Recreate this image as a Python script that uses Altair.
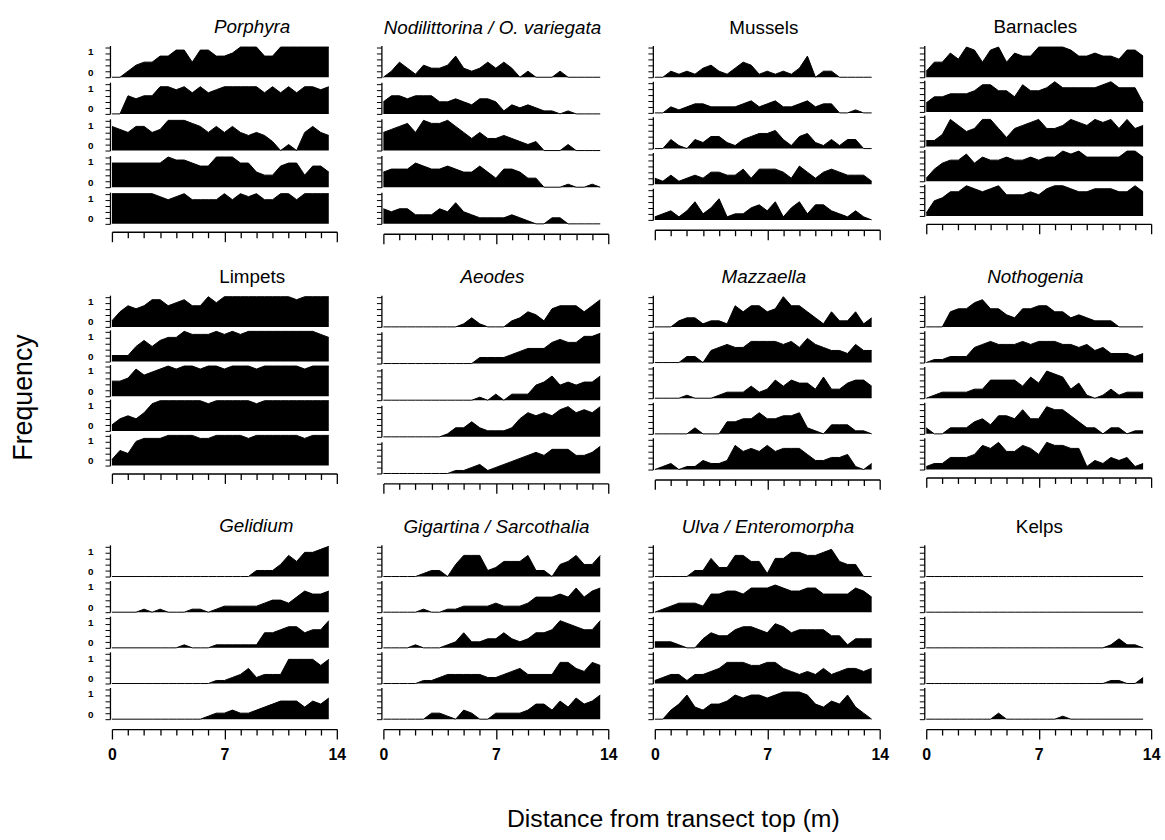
import altair as alt
import pandas as pd

# distance along transect (m)
X_M = [0.0, 0.5, 1.0, 1.5, 2.0, 2.5, 3.0, 3.5, 4.0, 4.5, 5.0, 5.5, 6.0, 6.5,
       7.0, 7.5, 8.0, 8.5, 9.0, 9.5, 10.0, 10.5, 11.0, 11.5, 12.0, 12.5, 13.0, 13.5]

# frequencies in tenths, five transects (strips) per taxon, top to bottom
porphyra = [
    [0, 0, 2, 4, 5, 5, 7, 7, 9, 9, 5, 9, 9, 7, 7, 8, 10, 10, 10, 7, 7, 10, 10, 10, 10, 10, 10, 10],
    [0, 0, 6, 5, 6, 6, 9, 9, 8, 9, 7, 9, 7, 8, 9, 9, 9, 9, 9, 7, 9, 7, 9, 7, 9, 9, 8, 9],
    [8, 7, 6, 8, 8, 6, 7, 10, 10, 10, 9, 8, 6, 8, 6, 8, 6, 5, 6, 5, 3, 0, 2, 0, 6, 8, 6, 5],
    [8, 8, 8, 8, 8, 8, 8, 10, 9, 9, 8, 7, 7, 10, 10, 10, 8, 8, 5, 4, 4, 7, 8, 8, 4, 7, 7, 5],
    [10, 10, 10, 10, 10, 10, 9, 8, 9, 10, 8, 8, 8, 8, 10, 8, 10, 9, 10, 8, 8, 10, 10, 8, 10, 10, 10, 10],
]
nodilittorina = [
    [0, 2, 5, 3, 1, 4, 3, 3, 4, 7, 3, 2, 3, 5, 3, 5, 3, 0, 2, 0, 0, 0, 2, 0, 0, 0, 0, 0],
    [4, 6, 6, 5, 6, 6, 6, 4, 4, 5, 4, 3, 5, 5, 4, 1, 3, 2, 3, 2, 1, 1, 0, 1, 0, 0, 0, 0],
    [6, 7, 8, 9, 6, 10, 9, 9, 10, 8, 6, 4, 6, 4, 4, 5, 4, 3, 2, 3, 0, 0, 0, 2, 0, 0, 0, 0],
    [5, 6, 6, 6, 8, 7, 6, 6, 7, 6, 5, 5, 7, 5, 3, 6, 6, 5, 3, 3, 0, 0, 0, 1, 0, 0, 1, 0],
    [5, 4, 5, 5, 3, 3, 3, 5, 4, 7, 4, 3, 2, 2, 2, 2, 3, 2, 1, 0, 0, 2, 2, 0, 0, 0, 0, 0],
]
mussels = [
    [0, 0, 2, 1, 2, 1, 3, 4, 2, 1, 3, 5, 4, 1, 2, 1, 2, 1, 3, 7, 0, 2, 2, 0, 0, 0, 0, 0],
    [0, 0, 2, 1, 2, 3, 3, 2, 2, 2, 2, 3, 4, 2, 3, 4, 2, 2, 3, 4, 2, 3, 3, 0, 0, 1, 0, 0],
    [0, 0, 3, 1, 0, 3, 2, 4, 4, 2, 1, 3, 4, 5, 5, 6, 3, 1, 4, 5, 2, 1, 3, 1, 3, 3, 0, 0],
    [2, 1, 3, 1, 2, 3, 2, 4, 4, 3, 3, 5, 2, 5, 5, 5, 4, 2, 6, 4, 2, 4, 5, 4, 3, 3, 3, 1],
    [1, 2, 3, 1, 3, 6, 2, 4, 7, 1, 2, 2, 4, 5, 3, 6, 1, 4, 6, 2, 5, 5, 3, 2, 1, 3, 1, 0],
]
barnacles = [
    [2, 5, 5, 8, 6, 10, 9, 5, 9, 10, 5, 8, 7, 7, 10, 10, 10, 10, 9, 7, 7, 8, 7, 7, 6, 9, 9, 7],
    [3, 5, 5, 6, 6, 6, 7, 9, 9, 7, 7, 5, 9, 7, 7, 8, 10, 8, 8, 8, 8, 8, 9, 10, 8, 8, 8, 3],
    [2, 2, 4, 9, 7, 5, 6, 9, 9, 6, 3, 6, 7, 8, 9, 6, 6, 7, 9, 8, 7, 9, 8, 9, 6, 9, 6, 7],
    [1, 4, 6, 7, 7, 9, 6, 8, 7, 7, 8, 7, 7, 8, 7, 8, 8, 10, 9, 10, 8, 8, 8, 8, 8, 10, 10, 8],
    [1, 5, 6, 8, 8, 10, 9, 8, 9, 10, 7, 7, 7, 8, 7, 9, 10, 10, 9, 8, 8, 9, 9, 9, 8, 8, 10, 8],
]
limpets = [
    [2, 5, 7, 6, 7, 9, 9, 7, 8, 9, 7, 7, 10, 8, 10, 10, 10, 10, 10, 10, 10, 10, 10, 9, 10, 10, 10, 10],
    [2, 2, 2, 5, 7, 5, 7, 8, 8, 10, 9, 9, 9, 10, 9, 10, 9, 10, 10, 10, 10, 10, 10, 10, 10, 10, 9, 8],
    [5, 5, 6, 9, 7, 8, 9, 10, 9, 10, 10, 9, 10, 10, 9, 10, 10, 10, 9, 10, 10, 10, 10, 10, 9, 10, 10, 10],
    [2, 4, 5, 4, 6, 9, 10, 10, 10, 10, 10, 10, 9, 10, 10, 10, 10, 10, 9, 10, 10, 10, 10, 10, 10, 10, 10, 10],
    [2, 5, 4, 8, 9, 9, 9, 10, 10, 10, 10, 9, 9, 10, 10, 10, 10, 9, 10, 10, 10, 10, 10, 10, 9, 10, 10, 10],
]
aeodes = [
    [0, 0, 0, 0, 0, 0, 0, 0, 0, 0, 1, 3, 1, 0, 0, 0, 2, 3, 5, 4, 2, 6, 7, 7, 7, 5, 7, 9],
    [0, 0, 0, 0, 0, 0, 0, 0, 0, 0, 0, 0, 2, 2, 2, 2, 3, 4, 5, 5, 5, 7, 8, 7, 7, 9, 9, 10],
    [0, 0, 0, 0, 0, 0, 0, 0, 0, 0, 0, 0, 1, 0, 2, 0, 2, 2, 2, 5, 6, 8, 5, 6, 5, 6, 6, 8],
    [0, 0, 0, 0, 0, 0, 0, 0, 1, 3, 3, 5, 3, 2, 2, 2, 3, 6, 8, 7, 8, 7, 9, 10, 8, 9, 8, 10],
    [0, 0, 0, 0, 0, 0, 0, 0, 0, 1, 1, 2, 3, 1, 2, 3, 4, 5, 6, 7, 6, 8, 8, 8, 6, 6, 7, 9],
]
mazzaella = [
    [0, 0, 0, 2, 3, 3, 1, 2, 2, 1, 7, 5, 7, 7, 5, 6, 10, 7, 7, 5, 3, 1, 5, 2, 2, 5, 1, 3],
    [0, 0, 0, 0, 2, 2, 0, 4, 5, 6, 5, 5, 7, 7, 7, 7, 6, 7, 5, 8, 6, 5, 4, 4, 3, 6, 4, 4],
    [0, 0, 0, 0, 1, 0, 0, 0, 1, 2, 2, 2, 4, 2, 3, 6, 4, 6, 5, 5, 3, 7, 3, 3, 5, 6, 6, 4],
    [0, 0, 0, 0, 0, 2, 0, 0, 0, 4, 4, 5, 5, 7, 5, 5, 6, 6, 7, 2, 1, 0, 3, 3, 3, 1, 1, 0],
    [0, 1, 2, 0, 1, 1, 3, 2, 2, 3, 8, 6, 7, 6, 8, 6, 7, 7, 7, 5, 3, 3, 4, 4, 5, 1, 0, 2],
]
nothogenia = [
    [0, 0, 0, 5, 6, 6, 8, 9, 6, 6, 4, 3, 6, 6, 7, 7, 5, 5, 3, 4, 3, 2, 2, 2, 0, 0, 0, 0],
    [0, 1, 1, 2, 2, 2, 5, 6, 7, 6, 6, 6, 7, 6, 7, 7, 7, 6, 6, 5, 6, 4, 5, 3, 3, 3, 2, 3],
    [0, 1, 2, 2, 2, 2, 3, 3, 6, 6, 6, 6, 4, 7, 5, 9, 8, 7, 3, 5, 1, 0, 1, 3, 1, 2, 2, 2],
    [2, 0, 0, 2, 2, 2, 4, 5, 3, 6, 6, 5, 8, 5, 5, 9, 8, 8, 6, 4, 2, 2, 0, 2, 2, 0, 1, 1],
    [1, 2, 2, 4, 4, 4, 5, 8, 7, 9, 6, 6, 8, 7, 5, 9, 8, 8, 7, 7, 1, 3, 2, 4, 3, 4, 1, 2],
]
gelidium = [
    [0, 0, 0, 0, 0, 0, 0, 0, 0, 0, 0, 0, 0, 0, 0, 0, 0, 0, 2, 2, 2, 4, 7, 5, 8, 8, 9, 10],
    [0, 0, 0, 0, 1, 0, 1, 0, 0, 0, 1, 1, 0, 1, 2, 2, 2, 2, 2, 3, 4, 4, 3, 5, 7, 6, 6, 7],
    [0, 0, 0, 0, 0, 0, 0, 0, 0, 1, 0, 0, 0, 1, 1, 1, 1, 1, 1, 5, 5, 6, 7, 7, 5, 6, 6, 9],
    [0, 0, 0, 0, 0, 0, 0, 0, 0, 0, 0, 0, 0, 1, 1, 2, 3, 5, 2, 3, 3, 3, 8, 8, 8, 8, 6, 8],
    [0, 0, 0, 0, 0, 0, 0, 0, 0, 0, 0, 0, 1, 2, 2, 3, 2, 2, 3, 4, 5, 6, 6, 6, 4, 6, 5, 7],
]
gigartina = [
    [0, 0, 0, 0, 0, 1, 2, 2, 0, 4, 7, 7, 7, 2, 3, 5, 5, 5, 7, 2, 2, 0, 4, 5, 7, 4, 4, 7],
    [0, 0, 0, 0, 0, 1, 0, 0, 1, 1, 2, 2, 2, 2, 3, 2, 2, 2, 3, 5, 5, 5, 6, 5, 8, 5, 7, 8],
    [0, 0, 0, 0, 1, 0, 0, 0, 1, 2, 5, 2, 2, 3, 3, 5, 3, 2, 3, 5, 5, 6, 9, 8, 7, 6, 6, 9],
    [0, 0, 0, 0, 0, 1, 1, 2, 3, 3, 3, 3, 3, 2, 2, 3, 4, 5, 3, 3, 3, 3, 7, 7, 5, 4, 7, 6],
    [0, 0, 0, 0, 0, 0, 2, 2, 1, 0, 3, 2, 0, 0, 2, 2, 2, 2, 3, 5, 5, 3, 6, 4, 7, 5, 6, 8],
]
ulva = [
    [0, 0, 0, 0, 0, 2, 2, 6, 3, 3, 7, 7, 5, 5, 1, 6, 6, 8, 8, 7, 7, 8, 9, 5, 4, 4, 0, 0],
    [0, 1, 2, 3, 3, 3, 2, 6, 6, 7, 7, 6, 8, 8, 8, 9, 8, 7, 7, 8, 8, 6, 6, 6, 6, 8, 7, 5],
    [2, 2, 2, 1, 0, 0, 3, 5, 4, 4, 6, 7, 7, 6, 5, 8, 7, 5, 6, 6, 6, 6, 4, 4, 1, 3, 3, 3],
    [1, 2, 3, 3, 1, 3, 3, 4, 5, 7, 7, 7, 6, 6, 7, 7, 5, 4, 3, 4, 3, 5, 3, 4, 5, 5, 4, 5],
    [0, 0, 3, 5, 8, 4, 3, 5, 5, 6, 8, 7, 8, 8, 7, 8, 9, 9, 9, 8, 5, 4, 6, 5, 8, 4, 2, 0],
]
kelps = [
    [0, 0, 0, 0, 0, 0, 0, 0, 0, 0, 0, 0, 0, 0, 0, 0, 0, 0, 0, 0, 0, 0, 0, 0, 0, 0, 0, 0],
    [0, 0, 0, 0, 0, 0, 0, 0, 0, 0, 0, 0, 0, 0, 0, 0, 0, 0, 0, 0, 0, 0, 0, 0, 0, 0, 0, 0],
    [0, 0, 0, 0, 0, 0, 0, 0, 0, 0, 0, 0, 0, 0, 0, 0, 0, 0, 0, 0, 0, 0, 0, 1, 3, 1, 1, 0],
    [0, 0, 0, 0, 0, 0, 0, 0, 0, 0, 0, 0, 0, 0, 0, 0, 0, 0, 0, 0, 0, 0, 0, 1, 1, 0, 0, 2],
    [0, 0, 0, 0, 0, 0, 0, 0, 0, 2, 0, 0, 0, 0, 0, 0, 0, 1, 0, 0, 0, 0, 0, 0, 0, 0, 0, 0],
]

TITLES = ["Porphyra", "Nodilittorina / O. variegata", "Mussels", "Barnacles",
          "Limpets", "Aeodes", "Mazzaella", "Nothogenia",
          "Gelidium", "Gigartina / Sarcothalia", "Ulva / Enteromorpha", "Kelps"]
ITALIC = [True, True, False, False, False, True, True, True, True, True, True, False]
SERIES = [porphyra, nodilittorina, mussels, barnacles, limpets, aeodes,
          mazzaella, nothogenia, gelidium, gigartina, ulva, kelps]
X_TICKS = [0, 1, 2, 3, 4, 5, 6, 7, 8, 9, 10, 11, 12, 13, 14]
Y_TICKS = [0, 0.2, 0.4, 0.6, 0.8, 1.0]

FONT = "Liberation Sans"


def make_panel(i):
    col = i % 4
    row = i // 4
    records = []
    for s, vals in enumerate(SERIES[i]):
        for x, v in zip(X_M, vals):
            records.append({"strip": s + 1, "x": x, "freq": v / 10})
    df = pd.DataFrame(records)

    xaxis = alt.Axis(values=X_TICKS, labels=(row == 2),
                     labelExpr="datum.value % 7 == 0 ? datum.label : ''",
                     labelFlush=False, labelOverlap=False, offset=8,
                     tickSize={"condition": {"test": "datum.value % 7 == 0", "value": 10},
                               "value": 6},
                     tickWidth=1.3, domainWidth=1.4,
                     labelPadding=8, labelFontSize=16, labelFontWeight="bold",
                     labelFont=FONT, grid=False)
    yaxis = alt.Axis(values=Y_TICKS, labels=(col == 0),
                     labelExpr="datum.value == 0 ? '0' : (datum.value == 1 ? '1' : '')",
                     labelBaseline={"condition": {"test": "datum.value == 0", "value": "bottom"},
                                    "value": "top"},
                     labelOverlap=False, tickSize=5, tickWidth=1, domainWidth=1.3,
                     labelPadding=12, labelFontSize=10, labelFontWeight="bold",
                     labelFont=FONT, grid=False)

    base = alt.Chart(df).mark_area(
        color="black", opacity=1, fillOpacity=1, interpolate="linear",
        line={"color": "black", "strokeWidth": 1}
    ).encode(
        x=alt.X("x:Q", scale=alt.Scale(domain=[0, 14], nice=False, zero=False),
                axis=xaxis, title=None),
        y=alt.Y("freq:Q", scale=alt.Scale(domain=[0, 1.05], nice=False),
                axis=yaxis, title=None),
    ).properties(width=227, height=32)

    facet = base.facet(
        row=alt.Row("strip:O", title=None, header=alt.Header(labels=False)),
        spacing=2,
    ).properties(
        title=alt.TitleParams(
            TITLES[i], fontStyle=("italic" if ITALIC[i] else "normal"),
            fontSize=19, fontWeight="normal", font=FONT, color="black",
            anchor="middle", offset=8, dx=(40 if col == 0 else 0))
    )
    return facet


panels = [make_panel(i) for i in range(12)]

grid = alt.concat(*panels, columns=4, spacing={"row": 23, "column": 30}).properties(
    title=alt.TitleParams("Distance from transect top (m)", orient="bottom",
                          anchor="middle", fontSize=25, fontWeight="normal",
                          font=FONT, color="black", offset=45, dx=50)
)

chart = alt.vconcat(grid).properties(
    title=alt.TitleParams("Frequency", orient="left", anchor="middle",
                          fontSize=27, fontWeight="normal", font=FONT,
                          color="black", offset=50, dx=28),
    padding={"left": 10, "top": 14, "right": 5, "bottom": 5},
).configure_view(stroke=None).configure_axis(
    domainColor="black", tickColor="black", labelColor="black"
)

chart.save("out.html", embed_options={"renderer": "svg", "actions": False})
